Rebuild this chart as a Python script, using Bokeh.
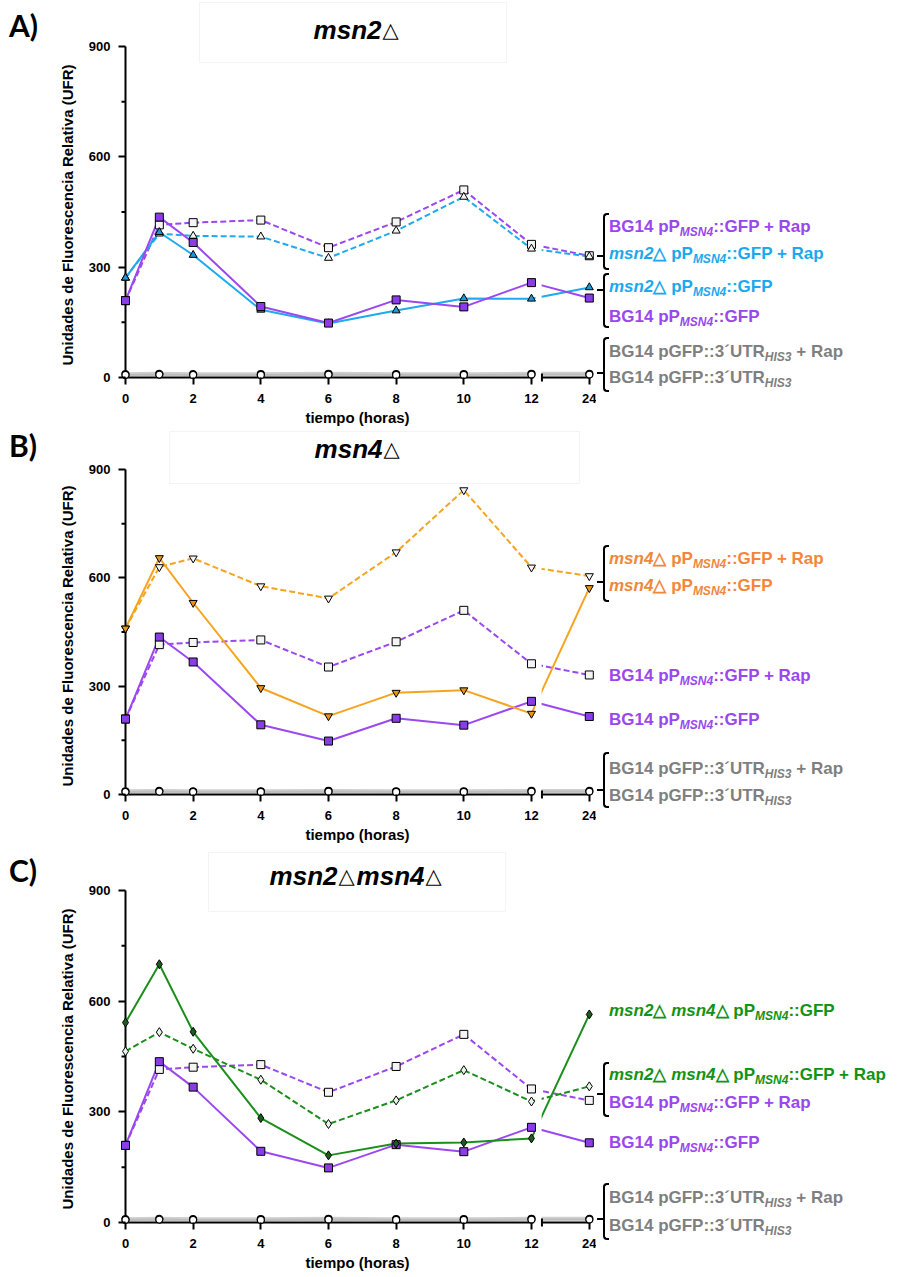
import math
from bokeh.plotting import figure
from bokeh.models import Range1d, FixedTicker, Label, BoxAnnotation, Div, CustomJSTickFormatter
from bokeh.layouts import column, row
from bokeh.embed import file_html
from bokeh.resources import INLINE

# ---------------- data ----------------
times = [0, 1, 2, 4, 6, 8, 10, 12, 24]
x_tick_hours = [0, 2, 4, 6, 8, 10, 12, 24]
x_tick_labels = ["0", "2", "4", "6", "8", "10", "12", "24"]
y_ticks = [0, 300, 600, 900]
y_minor_ticks = [150, 450, 750]

bg14 = [209, 436, 367, 193, 148, 211, 192, 258, 216]
bg14_rap = [209, 415, 421, 428, 353, 423, 510, 362, 331]
ctrl = [7, 8, 7, 7, 8, 7, 7, 8, 8]
ctrl_rap = [9, 10, 9, 9, 10, 9, 9, 10, 10]
msn2 = [271, 395, 333, 184, 147, 182, 215, 214, 245]
msn2_rap = [271, 391, 385, 383, 325, 399, 491, 350, 329]
msn4 = [460, 655, 531, 295, 217, 282, 289, 224, 572]
msn4_rap = [460, 630, 654, 577, 543, 671, 843, 629, 605]
dbl = [542, 700, 517, 283, 182, 214, 217, 228, 564]
dbl_rap = [464, 516, 471, 387, 267, 331, 413, 328, 369]

# ---------------- broken x axis ----------------
BREAK_HOUR = 12
POS_AFTER_BREAK = 13.71      # plotting position used for 24 h
GAP_LEFT, GAP_RIGHT = 12.12, 12.30
AXIS_END1, AXIS_START2 = 12.06, 12.31


def xpos(t):
    return t if t <= BREAK_HOUR else POS_AFTER_BREAK


xs = [xpos(t) for t in times]
x_tick_pos = [xpos(t) for t in x_tick_hours]

# ---------------- colours ----------------
PURPLE_LINE, PURPLE_FILL, PURPLE_TEXT = "#9b48f0", "#8a3ce6", "#9a47ee"
CYAN_LINE, CYAN_FILL, CYAN_TEXT = "#1fa9ee", "#1c96d8", "#1aa9ee"
ORANGE_LINE, ORANGE_FILL, ORANGE_TEXT = "#f6a41f", "#e8950f", "#f0873a"
GREEN_LINE, GREEN_FILL, GREEN_TEXT = "#1b8f1b", "#1e5c1e", "#139313"
GRAY_TEXT = "#7f7f7f"
OPEN_FILL = "#f4f4f4"

DASH = "6 3"
STY = {
    "bg14": (bg14, PURPLE_LINE, "solid", "square", PURPLE_FILL, 8),
    "bg14_rap": (bg14_rap, PURPLE_LINE, DASH, "square", OPEN_FILL, 8),
    "msn2": (msn2, CYAN_LINE, "solid", "triangle", CYAN_FILL, 8),
    "msn2_rap": (msn2_rap, CYAN_LINE, DASH, "triangle", OPEN_FILL, 8),
    "msn4": (msn4, ORANGE_LINE, "solid", "inverted_triangle", ORANGE_FILL, 8),
    "msn4_rap": (msn4_rap, ORANGE_LINE, DASH, "inverted_triangle", OPEN_FILL, 8),
    "dbl": (dbl, GREEN_LINE, "solid", "diamond", GREEN_FILL, 9),
    "dbl_rap": (dbl_rap, GREEN_LINE, DASH, "diamond", "#e8f4e8", 9),
}

# ---------------- geometry (page pixels) ----------------
PPH = 33.83          # px per hour
LEFT_W = 80          # left div (panel letter + y label)
FIG_W = 516          # figure width
DIV_W = 307          # legend div
FRAME_L = 38         # frame left inside figure
TICK = 7
T0_PAGE_X = 125
MBB = 46             # bottom border of figure
SANS = "Liberation Sans"


def make_panel(title_parts, keys, fig_h, page_top, zero_page, ppu, title_box, title_y):
    zero_fig_y = zero_page - page_top

    def xd(px):
        return (px - T0_PAGE_X) / PPH

    def yd(py):
        return (zero_page - py) / ppu

    yr = Range1d(-TICK / ppu, zero_fig_y / ppu)
    xr = Range1d(-TICK / PPH, (FIG_W - FRAME_L - TICK) / PPH)
    p = figure(width=FIG_W, height=fig_h, x_range=xr, y_range=yr,
               output_backend="svg", toolbar_location=None,
               min_border_left=FRAME_L, min_border_right=0, min_border_top=0,
               min_border_bottom=MBB)
    p.outline_line_color = None
    p.grid.visible = False

    # x axis
    xa = p.xaxis[0]
    xa.ticker = FixedTicker(ticks=x_tick_pos, minor_ticks=[])
    xa.formatter = CustomJSTickFormatter(args=dict(labels=x_tick_labels), code="return labels[index];")
    xa.axis_line_color = None
    xa.major_tick_in = TICK
    xa.major_tick_out = 0
    xa.minor_tick_in = 0
    xa.minor_tick_out = 0
    xa.major_tick_line_width = 2
    xa.major_label_standoff = 9
    xa.major_label_text_font = SANS
    xa.major_label_text_font_size = "13px"
    xa.major_label_text_font_style = "bold"
    xa.major_label_text_color = "black"
    xa.axis_label = "tiempo (horas)"
    xa.axis_label_text_font = SANS
    xa.axis_label_text_font_size = "15px"
    xa.axis_label_text_font_style = "bold"
    xa.axis_label_text_color = "black"
    xa.axis_label_standoff = 3

    # y axis
    ya = p.yaxis[0]
    ya.ticker = FixedTicker(ticks=y_ticks, minor_ticks=[])
    ya.axis_line_color = None
    ya.major_tick_in = TICK
    ya.major_tick_out = 0
    ya.minor_tick_in = 0
    ya.minor_tick_out = 0
    ya.major_tick_line_width = 2
    ya.major_label_standoff = 8
    ya.major_label_text_font = SANS
    ya.major_label_text_font_size = "13px"
    ya.major_label_text_font_style = "bold"
    ya.major_label_text_color = "black"

    # control lines (grey band)
    p.line(xs, ctrl_rap, line_color="#cfcfcf", line_width=4)
    p.line(xs, ctrl, line_color="#bdbdbd", line_width=2)
    for k in keys:
        vals, col, dash, mk, fill, size = STY[k]
        p.line(xs, vals, line_color=col, line_width=2, line_dash=dash)

    # axis break (white gap through lines)
    p.quad(left=[GAP_LEFT], right=[GAP_RIGHT], bottom=[yr.start], top=[yr.end],
           fill_color="white", line_color=None)

    # axis lines
    p.segment(x0=[0], y0=[0], x1=[0], y1=[y_ticks[-1]], line_color="black", line_width=2)
    p.segment(x0=[0, AXIS_START2], y0=[0, 0], x1=[AXIS_END1, x_tick_pos[-1]], y1=[0, 0],
              line_color="black", line_width=2)
    p.segment(x0=[AXIS_START2], y0=[-4 / ppu], x1=[AXIS_START2], y1=[4 / ppu],
              line_color="black", line_width=2)
    p.segment(x0=[-4 / PPH] * len(y_minor_ticks), y0=y_minor_ticks,
              x1=[0] * len(y_minor_ticks), y1=y_minor_ticks, line_color="black", line_width=2)

    # markers
    p.scatter(xs, ctrl_rap, marker="circle", size=7, fill_color="white", line_color="black", line_width=1.2)
    p.scatter(xs, ctrl, marker="circle", size=7, fill_color="white", line_color="black", line_width=1.2)
    for k in keys:
        vals, col, dash, mk, fill, size = STY[k]
        p.scatter(xs, vals, marker=mk, size=size, fill_color=fill, line_color="black", line_width=1)

    # title box + title text (italic gene names, upright delta)
    bl, br, bt, bb = title_box
    p.add_layout(BoxAnnotation(left=xd(bl), right=xd(br), top=yd(max(bt, page_top + 1)), bottom=yd(bb),
                               fill_color="white", fill_alpha=1.0, line_color="#d9d9d9", line_width=1))
    for txt, px, align, italic in title_parts:
        if italic:
            font, style, size = SANS, "bold italic", "26px"
        else:
            font, style, size = "DejaVu Sans", "bold", "21px"
        p.add_layout(Label(x=xd(px), y=yd(title_y), text=txt, text_align=align,
                           text_baseline="middle", text_font=font, text_font_size=size,
                           text_font_style=style, text_color="black"))
    return p


def left_div(h, page_top, letter, letter_y, ylab_y):
    html = ('<div style="position:relative;width:%dpx;height:%dpx;">' % (LEFT_W, h)
            + '<div style="position:absolute;left:9px;top:%dpx;font-family:Lato,sans-serif;'
              'font-weight:bold;font-size:30px;line-height:34px;color:#000;">%s</div>'
            % (letter_y - page_top - 17, letter)
            + '<div style="position:absolute;left:68px;top:%dpx;transform:translate(-50%%,-50%%) rotate(-90deg);'
              'white-space:nowrap;font-family:\'Liberation Sans\',Arial,sans-serif;font-weight:bold;'
              'font-size:15px;line-height:18px;color:#000;">Unidades de Fluorescencia Relativa (UFR)</div>'
            % (ylab_y - page_top)
            + '</div>')
    return Div(text=html, width=LEFT_W, height=h, margin=(0, 0, 0, 0), styles={"overflow": "visible"})


def sub(s):
    return ('<span style="font-size:12px;font-style:italic;position:relative;top:4px;">'
            + s + '</span>')


T_BG = "BG14 pP" + sub("MSN4") + "::GFP"
T_BG_RAP = T_BG + " + Rap"
T_M2 = "<i>msn2</i>\u25b3 pP" + sub("MSN4") + "::GFP"
T_M2_RAP = T_M2 + " + Rap"
T_M4 = "<i>msn4</i>\u25b3 pP" + sub("MSN4") + "::GFP"
T_M4_RAP = T_M4 + " + Rap"
T_DB = "<i>msn2</i>\u25b3 <i>msn4</i>\u25b3 pP" + sub("MSN4") + "::GFP"
T_DB_RAP = T_DB + " + Rap"
T_C = "BG14 pGFP::3\u00b4UTR" + sub("HIS3")
T_C_RAP = T_C + " + Rap"


def legend_div(fig_h, page_top, brackets, items):
    parts = ['<div style="position:relative;width:%dpx;height:%dpx;font-family:\'Liberation Sans\',Arial,sans-serif;'
             'font-weight:bold;font-size:17px;">' % (DIV_W, fig_h)]
    for top, bottom, tick in brackets:
        parts.append('<div style="position:absolute;left:7px;top:%dpx;width:6px;height:%dpx;'
                     'border:2px solid #000;border-right:none;border-radius:4px 0 0 4px;box-sizing:border-box;"></div>'
                     % (top - page_top, bottom - top))
        parts.append('<div style="position:absolute;left:1px;top:%dpx;width:7px;height:2px;background:#000;"></div>'
                     % (tick - page_top - 1))
    for cy, color, txt in items:
        parts.append('<div style="position:absolute;left:13px;top:%dpx;line-height:20px;white-space:nowrap;color:%s;">%s</div>'
                     % (cy - page_top - 10, color, txt))
    parts.append('</div>')
    return Div(text="".join(parts), width=DIV_W, height=fig_h, margin=(0, 0, 0, 0),
               styles={"overflow": "visible"})


D = "\u25b3"

# ---- panel A ----
A_TOP, A_H = 0, 430
pA = make_panel([("msn2", 381, "right", True), (D, 382, "left", False)],
                ["bg14_rap", "msn2_rap", "msn2", "bg14"],
                A_H, A_TOP, 377, 331 / 900, (199, 506, 2, 62), 29)
lA = left_div(A_H, A_TOP, "A)", 25, 215)
dA = legend_div(A_H, A_TOP,
                [(213, 270, 256), (273, 328, 290), (337, 392, 373)],
                [(227, PURPLE_TEXT, T_BG_RAP), (254, CYAN_TEXT, T_M2_RAP),
                 (287, CYAN_TEXT, T_M2), (317, PURPLE_TEXT, T_BG),
                 (352, GRAY_TEXT, T_C_RAP), (378, GRAY_TEXT, T_C)])

# ---- panel B ----
B_TOP, B_H = 430, 417
pB = make_panel([("msn4", 382, "right", True), (D, 383, "left", False)],
                ["bg14_rap", "bg14", "msn4_rap", "msn4"],
                B_H, B_TOP, 794, 325 / 900, (169, 579, 424, 483), 448)
lB = left_div(B_H, B_TOP, "B)", 445, 636)
dB = legend_div(B_H, B_TOP,
                [(545, 602, 582), (752, 808, 790)],
                [(559, ORANGE_TEXT, T_M4_RAP), (586, ORANGE_TEXT, T_M4),
                 (676, PURPLE_TEXT, T_BG_RAP), (720, PURPLE_TEXT, T_BG),
                 (769, GRAY_TEXT, T_C_RAP), (796, GRAY_TEXT, T_C)])

# ---- panel C ----
C_TOP, C_H = 847, 428
pC = make_panel([("msn2", 337, "right", True), (D, 338, "left", False),
                 ("msn4", 424, "right", True), (D, 425, "left", False)],
                ["bg14_rap", "bg14", "dbl_rap", "dbl"],
                C_H, C_TOP, 1222, 332 / 900, (208, 505, 852, 911), 875)
lC = left_div(C_H, C_TOP, "C)", 870, 1059)
dC = legend_div(C_H, C_TOP,
                [(1062, 1117, 1094), (1183, 1240, 1219)],
                [(1011, GREEN_TEXT, T_DB),
                 (1075, GREEN_TEXT, T_DB_RAP), (1103, PURPLE_TEXT, T_BG_RAP),
                 (1143, PURPLE_TEXT, T_BG),
                 (1198, GRAY_TEXT, T_C_RAP), (1226, GRAY_TEXT, T_C)])

layout = column(row(lA, pA, dA), row(lB, pB, dB), row(lC, pC, dC))
open("out.html", "w").write(file_html(layout, INLINE))
